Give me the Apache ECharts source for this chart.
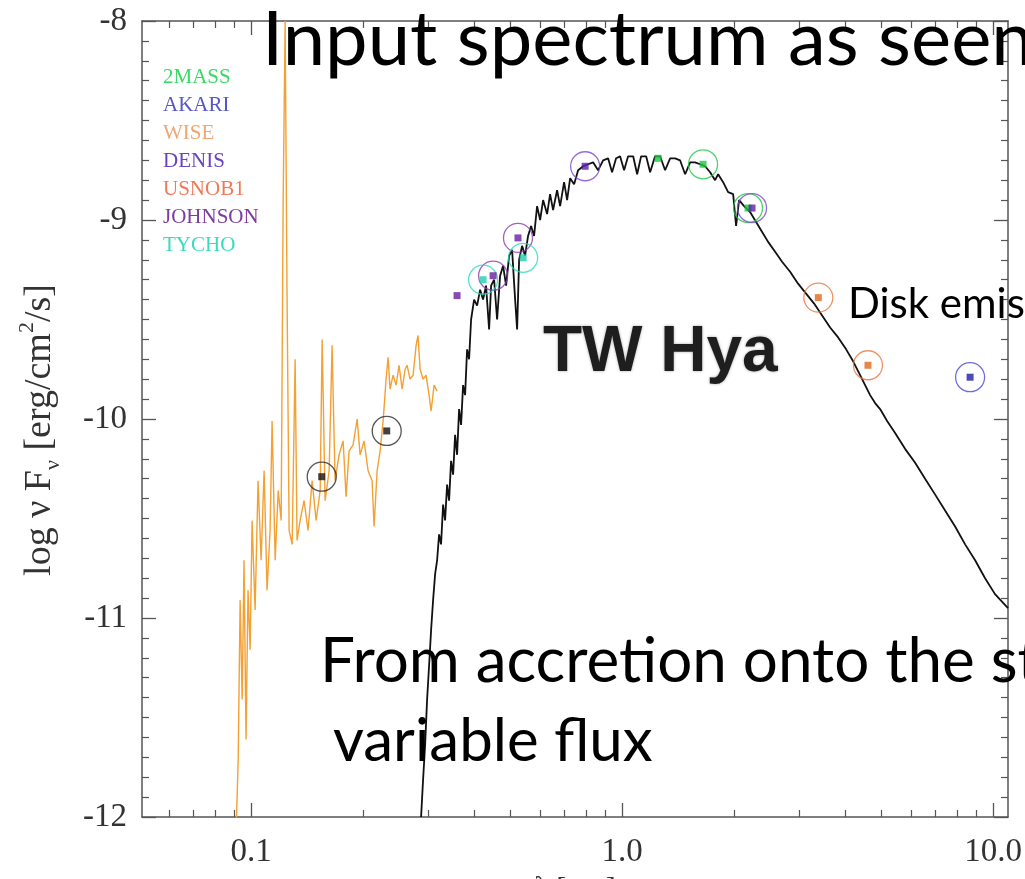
<!DOCTYPE html>
<html>
<head>
<meta charset="utf-8">
<script src="https://cdn.jsdelivr.net/npm/echarts@6/dist/echarts.min.js"></script>
<style>
  html, body { margin: 0; padding: 0; background: #ffffff; }
  #chart { width: 1025px; height: 879px; }
</style>
</head>
<body>
<div id="chart"></div>
<script>
// Spectral energy distribution of TW Hya.
// Wavelength in micron, flux as log(nu F_nu) in erg/cm^2/s.

// Photospheric model spectrum
const photosphere = [
  [0.2872,-12.00],[0.2908,-11.81],[0.2944,-11.64],[0.2981,-11.41],[0.3018,-11.24],[0.3056,-11.06],
  [0.3094,-10.91],[0.3133,-10.78],[0.3172,-10.71],[0.3211,-10.58],[0.3251,-10.63],[0.3292,-10.43],
  [0.3333,-10.51],[0.3375,-10.33],[0.3417,-10.41],[0.3459,-10.21],[0.3503,-10.28],[0.3547,-10.08],
  [0.3591,-10.18],[0.3636,-9.95],[0.3681,-10.03],[0.3727,-9.83],[0.3774,-9.88],[0.3821,-9.65],
  [0.3869,-9.70],[0.3917,-9.50],[0.3991,-9.40],[0.4066,-9.43],[0.4143,-9.35],[0.4219,-9.40],
  [0.4298,-9.33],[0.4380,-9.55],[0.4435,-9.33],[0.4519,-9.30],[0.4603,-9.50],[0.4690,-9.28],
  [0.4778,-9.23],[0.4868,-9.33],[0.4959,-9.18],[0.5052,-9.15],[0.5148,-9.40],[0.5212,-9.55],
  [0.5277,-9.20],[0.5376,-9.13],[0.5475,-9.18],[0.5579,-9.08],[0.5684,-9.03],[0.5791,-9.08],
  [0.5900,-8.93],[0.6012,-9.00],[0.6125,-8.90],[0.6278,-8.97],[0.6396,-8.87],[0.6516,-8.95],
  [0.6680,-8.85],[0.6806,-8.93],[0.6977,-8.81],[0.7108,-8.90],[0.7243,-8.79],[0.7424,-8.82],
  [0.7611,-8.75],[0.7850,-8.73],[0.8097,-8.72],[0.8353,-8.71],[0.8615,-8.75],[0.8888,-8.70],
  [0.9168,-8.69],[0.9397,-8.76],[0.9634,-8.69],[0.9876,-8.68],[1.0125,-8.75],[1.038,-8.68],
  [1.071,-8.68],[1.098,-8.77],[1.125,-8.68],[1.161,-8.68],[1.190,-8.76],[1.227,-8.68],
  [1.266,-8.68],[1.306,-8.75],[1.347,-8.69],[1.390,-8.69],[1.433,-8.70],[1.479,-8.77],
  [1.525,-8.71],[1.573,-8.71],[1.623,-8.72],[1.674,-8.73],[1.727,-8.76],[1.781,-8.80],
  [1.815,-8.77],[1.872,-8.81],[1.931,-8.86],[1.992,-8.87],[2.029,-9.03],[2.067,-8.90],
  [2.132,-8.93],[2.213,-8.96],[2.297,-9.01],[2.385,-9.06],[2.475,-9.11],[2.585,-9.16],
  [2.699,-9.21],[2.837,-9.26],[2.981,-9.32],[3.133,-9.37],[3.293,-9.42],[3.460,-9.48],
  [3.637,-9.54],[3.822,-9.59],[4.017,-9.65],[4.195,-9.71],[4.381,-9.78],[4.519,-9.83],
  [4.661,-9.88],[4.808,-9.92],[4.960,-9.95],[5.180,-10.01],[5.444,-10.07],[5.791,-10.15],
  [6.164,-10.22],[6.557,-10.30],[6.980,-10.38],[7.424,-10.46],[7.900,-10.54],[8.406,-10.63],
  [8.945,-10.71],[9.515,-10.80],[10.12,-10.88],[10.97,-10.95]
];

// Ultraviolet spectrum
const uvSpectrum = [
  [0.0911,-12.07],[0.0923,-11.71],[0.0934,-10.91],[0.0946,-11.41],[0.0957,-10.71],[0.0969,-11.61],
  [0.0981,-10.86],[0.0994,-11.16],[0.1006,-10.51],[0.1025,-10.96],[0.1044,-10.31],[0.1064,-10.71],
  [0.1084,-10.26],[0.1104,-10.86],[0.1125,-10.56],[0.1139,-10.01],[0.1161,-10.71],[0.1183,-10.36],
  [0.1205,-10.51],[0.1220,-8.90],[0.1235,-8.00],[0.1250,-9.40],[0.1266,-10.56],[0.1290,-10.63],
  [0.1314,-9.70],[0.1330,-10.61],[0.1355,-10.51],[0.1389,-10.41],[0.1424,-10.56],[0.1460,-10.31],
  [0.1497,-10.51],[0.1535,-10.36],[0.1554,-9.60],[0.1583,-10.41],[0.1623,-10.26],[0.1653,-9.63],
  [0.1684,-10.31],[0.1726,-10.18],[0.1770,-10.11],[0.1803,-10.39],[0.1837,-10.16],[0.1883,-10.13],
  [0.1931,-10.00],[0.1967,-10.18],[0.2016,-10.11],[0.2067,-10.26],[0.2119,-10.31],[0.2145,-10.54],
  [0.2186,-10.26],[0.2227,-10.16],[0.2269,-10.01],[0.2311,-9.80],[0.2340,-9.69],[0.2369,-9.85],
  [0.2414,-9.78],[0.2459,-9.83],[0.2505,-9.73],[0.2553,-9.85],[0.2601,-9.75],[0.2633,-9.73],
  [0.2682,-9.80],[0.2733,-9.78],[0.2784,-9.63],[0.2818,-9.58],[0.2854,-9.75],[0.2908,-9.80],
  [0.2962,-9.78],[0.3018,-9.88],[0.3056,-9.96],[0.3113,-9.83],[0.3172,-9.86]
];

// Broad-band photometry per catalogue: [wavelength, log flux]
const galexPhot   = [[0.155,-10.29],[0.232,-10.06]];
const twoMassPhot = [[1.25,-8.69],[1.653,-8.72],[2.185,-8.94]];
const akariPhot   = [[8.67,-9.79]];
const wisePhot    = [[3.38,-9.39],[4.60,-9.73]];
const denisPhot   = [[0.795,-8.73],[2.24,-8.94]];
const usnoPhot    = [];
const johnsonPhot = [[0.359,-9.38],[0.449,-9.28],[0.524,-9.09]];
const tychoPhot   = [[0.422,-9.30],[0.541,-9.19]];

// Legend order of the catalogues
const catalogNames = ['2MASS','AKARI','WISE','DENIS','USNOB1','JOHNSON','TYCHO'];

// Axis ticks
const xMajorTicks = [0.1, 1, 10];
const xTickLabels = ['0.1', '1.0', '10.0'];
const xMinorTicks = [0.06,0.07,0.08,0.09,0.2,0.3,0.4,0.5,0.6,0.7,0.8,0.9,2,3,4,5,6,7,8,9];

// ---- styling ----
const catalogStyle = {
  'GALEX':   { ring: '#2a2a2a', dot: '#111111', text: '#222222' },
  '2MASS':   { ring: '#22c847', dot: '#19c83c', text: '#3ad866' },
  'AKARI':   { ring: '#4a4ad8', dot: '#1d1daa', text: '#5656c8' },
  'WISE':    { ring: '#e8783c', dot: '#e06a1e', text: '#efa672' },
  'DENIS':   { ring: '#7a48d0', dot: '#5a20a8', text: '#6a44c0' },
  'USNOB1':  { ring: '#e8603c', dot: '#d84a20', text: '#ee7a5a' },
  'JOHNSON': { ring: '#8a3cb4', dot: '#6a1ea0', text: '#7d3c9e' },
  'TYCHO':   { ring: '#2adcc0', dot: '#20d0b0', text: '#36dcbc' }
};
const catalogData = {
  'GALEX': galexPhot, '2MASS': twoMassPhot, 'AKARI': akariPhot, 'WISE': wisePhot,
  'DENIS': denisPhot, 'USNOB1': usnoPhot, 'JOHNSON': johnsonPhot, 'TYCHO': tychoPhot
};
// measurements drawn as a bare square, without the surrounding ring
const bareMarks = { '2MASS': [1.25], 'JOHNSON': [0.359] };

const axisColor = '#555555';
const labelColor = '#333333';
const serif = '"Liberation Serif", "DejaVu Serif", serif';

function xLabel(val) {
  const i = xMajorTicks.findIndex(v => Math.abs(Math.log10(v) - Math.log10(val)) < 1e-6);
  return i >= 0 ? xTickLabels[i] : '';
}

const logAxisBase = {
  type: 'log', logBase: 10, min: 0.0508, max: 10.97,
  splitLine: { show: false }, minorTick: { show: false }, minorSplitLine: { show: false }
};
const xAxes = [
  Object.assign({}, logAxisBase, {
    position: 'bottom',
    axisLine: { show: true, onZero: false, lineStyle: { color: axisColor, width: 1.5 } },
    axisTick: { show: true, inside: true, length: 14, customValues: xMajorTicks, lineStyle: { color: axisColor, width: 1.3 } },
    axisLabel: { show: true, customValues: xMajorTicks, formatter: xLabel, margin: 19,
                 fontFamily: serif, fontSize: 33, color: labelColor },
    name: 'λ [μm]', nameLocation: 'middle', nameGap: 50,
    nameTextStyle: { fontFamily: serif, fontSize: 30, color: labelColor }
  }),
  Object.assign({}, logAxisBase, {
    position: 'bottom',
    axisLine: { show: false, onZero: false },
    axisTick: { show: true, inside: true, length: 7, customValues: xMinorTicks, lineStyle: { color: axisColor, width: 1.2 } },
    axisLabel: { show: false }
  }),
  Object.assign({}, logAxisBase, {
    position: 'top',
    axisLine: { show: true, onZero: false, lineStyle: { color: axisColor, width: 1.5 } },
    axisTick: { show: true, inside: true, length: 14, customValues: xMajorTicks, lineStyle: { color: axisColor, width: 1.3 } },
    axisLabel: { show: false }
  }),
  Object.assign({}, logAxisBase, {
    position: 'top',
    axisLine: { show: false, onZero: false },
    axisTick: { show: true, inside: true, length: 7, customValues: xMinorTicks, lineStyle: { color: axisColor, width: 1.2 } },
    axisLabel: { show: false }
  })
];

const yAxisBase = {
  type: 'value', min: -12, max: -8, interval: 1,
  splitLine: { show: false },
  axisLine: { show: true, onZero: false, lineStyle: { color: axisColor, width: 1.5 } },
  axisTick: { show: true, inside: true, length: 14, lineStyle: { color: axisColor, width: 1.3 } },
  minorTick: { show: true, splitNumber: 10, length: 7, lineStyle: { color: axisColor, width: 1.2 } }
};
const yAxes = [
  Object.assign({}, yAxisBase, {
    position: 'left',
    axisLabel: { show: true, margin: 15, fontFamily: serif, fontSize: 33, color: labelColor },
    name: '{a|log ν F}{s|ν}{a| [erg/cm}{p|2}{a|/s]}',
    nameLocation: 'middle', nameGap: 78, nameRotate: 90,
    nameTextStyle: {
      color: labelColor,
      padding: [0, 22, 0, 0],
      rich: {
        a: { fontFamily: serif, fontSize: 38, color: labelColor, lineHeight: 48 },
        s: { fontFamily: serif, fontSize: 22, color: labelColor, verticalAlign: 'bottom' },
        p: { fontFamily: serif, fontSize: 22, color: labelColor, verticalAlign: 'top' }
      }
    }
  }),
  Object.assign({}, yAxisBase, { position: 'right', axisLabel: { show: false } })
];

const series = [
  {
    type: 'line', name: 'UV spectrum', data: uvSpectrum, showSymbol: false, clip: true,
    lineStyle: { color: '#f4a032', width: 1.4 }, z: 2, silent: true
  },
  {
    type: 'line', name: 'Photosphere', data: photosphere, showSymbol: false, clip: true,
    lineStyle: { color: '#111111', width: 1.8 }, z: 3, silent: true
  }
];

['GALEX'].concat(catalogNames).forEach(function (name) {
  const pts = catalogData[name];
  const st = catalogStyle[name];
  const bare = bareMarks[name] || [];
  series.push({
    type: 'scatter', name: name, symbol: 'circle', symbolSize: 29, silent: true, z: 5,
    data: pts.filter(p => bare.indexOf(p[0]) < 0),
    itemStyle: { color: 'rgba(0,0,0,0)', borderColor: st.ring, borderWidth: 1.3 }
  });
  series.push({
    type: 'scatter', name: name, symbol: 'rect', symbolSize: 7, silent: true, z: 6,
    data: pts, itemStyle: { color: st.dot }
  });
});

const chart = echarts.init(document.getElementById('chart'), null, { renderer: 'canvas' });
chart.setOption({
  animation: false,
  backgroundColor: '#ffffff',
  grid: { left: 142, right: 17, top: 21, bottom: 62, containLabel: false, outerBoundsMode: 'none' },
  xAxis: xAxes,
  yAxis: yAxes,
  legend: {
    orient: 'vertical', left: 153, top: 62, selectedMode: false,
    itemWidth: 0, itemHeight: 14, itemGap: 7, icon: 'none',
    textStyle: { fontFamily: serif, fontSize: 21 },
    data: catalogNames.map(n => ({ name: n, icon: 'none', textStyle: { color: catalogStyle[n].text } }))
  },
  graphic: [
    { type: 'text', x: 262, y: 40, z: 100, silent: true,
      style: { text: 'Input spectrum as seen', font: '76px Lato', fill: '#000000', verticalAlign: 'middle' } },
    { type: 'text', x: 848, y: 304, z: 100, silent: true,
      style: { text: 'Disk emission', font: '42px Lato', fill: '#000000', verticalAlign: 'middle' } },
    { type: 'text', x: 543, y: 353, z: 100, silent: true,
      style: { text: 'TW Hya', font: 'bold 64px "Liberation Sans", Arial, sans-serif', fill: '#1e1e1e',
               verticalAlign: 'middle', textShadowColor: 'rgba(0,0,0,0.35)', textShadowBlur: 3 } },
    { type: 'text', x: 320, y: 662, z: 100, silent: true,
      style: { text: 'From accretion onto the star', font: '62px Lato', fill: '#000000', verticalAlign: 'middle' } },
    { type: 'text', x: 333, y: 742, z: 100, silent: true,
      style: { text: 'variable flux', font: '60px Lato', fill: '#000000', verticalAlign: 'middle' } }
  ],
  series: series
});
</script>
</body>
</html>
